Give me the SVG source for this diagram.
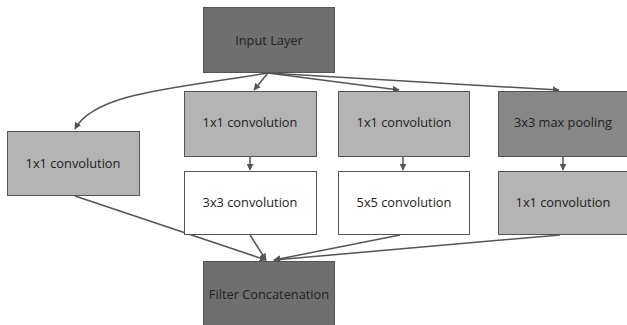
<svg xmlns="http://www.w3.org/2000/svg" width="627" height="325" viewBox="0 0 627 325">
<defs>
<style>
.box{stroke:#555;stroke-width:1}
.dark{fill:#6f6f6f}
.mid{fill:#878787}
.light{fill:#b4b4b4}
.white{fill:#ffffff}
.lbl{font-family:"Open Sans",sans-serif;font-size:12.8px;fill:#222;text-anchor:middle;dominant-baseline:central}
.conn{fill:none;stroke:#555;stroke-width:1.5}
</style>
<marker id="ah" viewBox="0 0 10 10" refX="9" refY="5" markerWidth="7" markerHeight="7" markerUnits="userSpaceOnUse" orient="auto">
<path d="M0,0 L10,5 L0,10 z" fill="#555"/>
</marker>
</defs>
<rect width="627" height="325" fill="#fff"/>
<g id="connectors">
<path class="conn" marker-end="url(#ah)" d="M268,73 C180,88 95,92 75,129"/>
<path class="conn" marker-end="url(#ah)" d="M268,73 L254,90"/>
<path class="conn" marker-end="url(#ah)" d="M268,73 L399,90"/>
<path class="conn" marker-end="url(#ah)" d="M268,73 L559,90"/>
<path class="conn" marker-end="url(#ah)" d="M250,157 L250,170"/>
<path class="conn" marker-end="url(#ah)" d="M403,157 L403,170"/>
<path class="conn" marker-end="url(#ah)" d="M563,157 L563,170"/>
<path class="conn" marker-end="url(#ah)" d="M75,196 L266,260"/>
<path class="conn" marker-end="url(#ah)" d="M250,235 L266,260"/>
<path class="conn" marker-end="url(#ah)" d="M400,235 L274,260"/>
<path class="conn" marker-end="url(#ah)" d="M560,235 L274,260"/>
</g>
<g id="input"><rect class="box dark" x="203.5" y="7.5" width="131" height="65"/><text class="lbl" x="269" y="40">Input Layer</text></g>
<g id="conv1a"><rect class="box light" x="7.5" y="131.5" width="132" height="64"/><text class="lbl" x="73" y="163">1x1 convolution</text></g>
<g id="conv1b"><rect class="box light" x="184.5" y="91.5" width="132" height="65"/><text class="lbl" x="250" y="122">1x1 convolution</text></g>
<g id="conv3"><rect class="box white" x="184.5" y="171.5" width="132" height="63"/><text class="lbl" x="250" y="202">3x3 convolution</text></g>
<g id="conv1c"><rect class="box light" x="338.5" y="91.5" width="131" height="65"/><text class="lbl" x="404" y="122">1x1 convolution</text></g>
<g id="conv5"><rect class="box white" x="338.5" y="171.5" width="131" height="63"/><text class="lbl" x="404" y="202">5x5 convolution</text></g>
<g id="pool"><rect class="box mid" x="498.5" y="91.5" width="130" height="65"/><text class="lbl" x="563" y="122">3x3 max pooling</text></g>
<g id="conv1d"><rect class="box light" x="498.5" y="171.5" width="130" height="63"/><text class="lbl" x="563" y="202">1x1 convolution</text></g>
<g id="concat"><rect class="box dark" x="203.5" y="261.5" width="131" height="66"/><text class="lbl" x="269" y="294">Filter Concatenation</text></g>
</svg>
